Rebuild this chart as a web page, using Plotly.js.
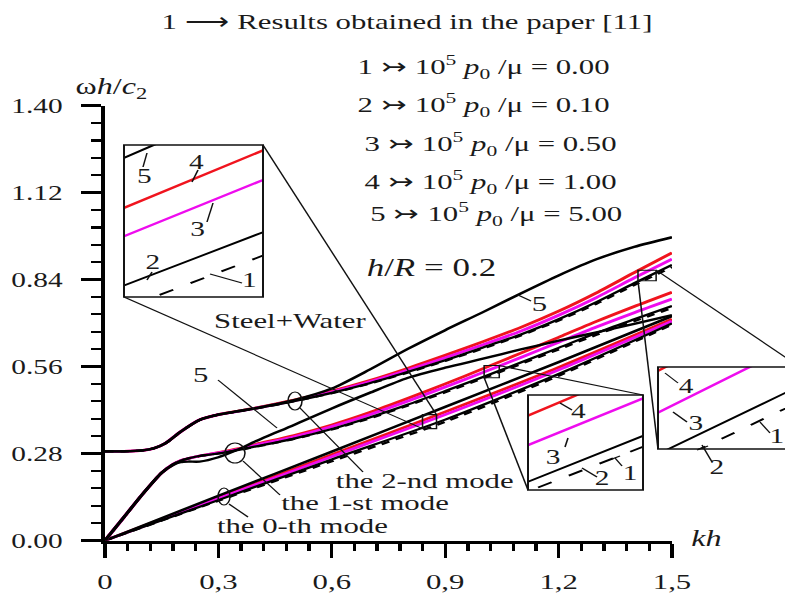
<!DOCTYPE html>
<html><head><meta charset="utf-8">
<script src="https://cdn.plot.ly/plotly-3.0.1.min.js"></script>
<style>
html,body{margin:0;padding:0;background:#fff;overflow:hidden;}
#chart{width:561px;height:597px;transform:scaleX(1.3993);transform-origin:0 0;}
</style></head><body><div id="chart"></div>
<script>
// ================= DATA =================
// x-axis ticks
const xTickVals = [0, 0.3, 0.6, 0.9, 1.2, 1.5];
const xTickText = ["0", "0,3", "0,6", "0,9", "1,2", "1,5"];
// y-axis ticks
const yTickVals = [0, 0.28, 0.56, 0.84, 1.12, 1.40];
const yTickText = ["0.00", "0.28", "0.56", "0.84", "1.12", "1.40"];

// 0-th mode (curves 1..5)
const kh0 = [0, 0.3, 0.6, 0.9, 1.2, 1.5];
const mode0_c1 = [0, 0.128, 0.255, 0.382, 0.530, 0.695];
const mode0_c2 = [0, 0.130, 0.261, 0.389, 0.536, 0.699];
const mode0_c3 = [0, 0.135, 0.270, 0.405, 0.549, 0.706];
const mode0_c4 = [0, 0.138, 0.276, 0.414, 0.557, 0.712];
const mode0_c5 = [0, 0.144, 0.286, 0.430, 0.574, 0.722];

// 1-st mode (curves 1..5)
const kh1 = [0, 0.05, 0.1, 0.15, 0.18, 0.2, 0.22, 0.25, 0.3, 0.35, 0.4, 0.5, 0.6, 0.7, 0.8, 0.9, 1.0, 1.1, 1.2, 1.3, 1.4, 1.5];
const mode1_c1 = [0, 0.075, 0.150, 0.218, 0.245, 0.257, 0.264, 0.272, 0.280, 0.290, 0.302, 0.327, 0.357, 0.393, 0.434, 0.477, 0.522, 0.568, 0.615, 0.662, 0.706, 0.748];
const mode1_c2 = [0, 0.075, 0.150, 0.218, 0.245, 0.257, 0.264, 0.272, 0.280, 0.291, 0.303, 0.328, 0.359, 0.396, 0.437, 0.481, 0.526, 0.573, 0.620, 0.668, 0.712, 0.755];
const mode1_c3 = [0, 0.075, 0.150, 0.218, 0.245, 0.257, 0.264, 0.272, 0.282, 0.293, 0.307, 0.334, 0.367, 0.405, 0.448, 0.494, 0.541, 0.589, 0.638, 0.687, 0.733, 0.777];
const mode1_c4 = [0, 0.075, 0.150, 0.218, 0.245, 0.257, 0.264, 0.272, 0.283, 0.295, 0.310, 0.338, 0.372, 0.412, 0.457, 0.504, 0.553, 0.603, 0.654, 0.705, 0.753, 0.799];
const mode1_c5 = [0, 0.075, 0.150, 0.218, 0.243, 0.252, 0.254, 0.254, 0.268, 0.292, 0.320, 0.372, 0.425, 0.475, 0.523, 0.556, 0.585, 0.615, 0.643, 0.670, 0.697, 0.725];

// 2-nd mode (curves 1..5)
const kh2 = [0, 0.05, 0.1, 0.13, 0.16, 0.2, 0.25, 0.3, 0.35, 0.4, 0.5, 0.6, 0.7, 0.8, 0.9, 1.0, 1.1, 1.2, 1.3, 1.4, 1.5];
const mode2_c1 = [0.287, 0.287, 0.290, 0.297, 0.313, 0.350, 0.388, 0.405, 0.415, 0.425, 0.448, 0.474, 0.505, 0.540, 0.578, 0.618, 0.660, 0.708, 0.762, 0.822, 0.880];
const mode2_c2 = [0.287, 0.287, 0.290, 0.297, 0.313, 0.350, 0.388, 0.405, 0.415, 0.425, 0.448, 0.475, 0.506, 0.542, 0.580, 0.621, 0.663, 0.712, 0.767, 0.828, 0.887];
const mode2_c3 = [0.287, 0.287, 0.290, 0.297, 0.313, 0.350, 0.388, 0.405, 0.415, 0.426, 0.450, 0.478, 0.511, 0.548, 0.588, 0.630, 0.674, 0.725, 0.782, 0.845, 0.906];
const mode2_c4 = [0.287, 0.287, 0.290, 0.297, 0.313, 0.350, 0.388, 0.405, 0.416, 0.427, 0.452, 0.481, 0.515, 0.554, 0.596, 0.640, 0.686, 0.738, 0.797, 0.862, 0.926];
const mode2_c5 = [0.287, 0.287, 0.290, 0.297, 0.313, 0.350, 0.388, 0.405, 0.416, 0.427, 0.452, 0.489, 0.550, 0.616, 0.677, 0.735, 0.795, 0.853, 0.905, 0.945, 0.976];

// zoom windows shown in the three insets (kh range, value range)
const zoomKhA = [0.840, 0.877], zoomValA = [0.360, 0.405];
const zoomKhB = [1.003, 1.043], zoomValB = [0.524, 0.563];
const zoomKhC = [1.410, 1.458], zoomValC = [0.836, 0.870];

// legend values (10^5 p0/mu)
const legendRows = ["0.00", "0.10", "0.50", "1.00", "5.00"];

// ================= LAYOUT HELPERS =================
const W = 785, H = 597;
const SERIF = "Liberation Serif, Times New Roman, serif";
const INK = "#1a1a1a";
const PX = x => x / W;
const PY = y => 1 - y / H;
// main plot area in reference pixels
const MX0 = 105, MX1 = 672, MY0 = 540.5, MY1 = 105.5;
const XR = [0, 1.5], YR = [0, 1.4];
const kPx = k => MX0 + (k - XR[0]) / (XR[1] - XR[0]) * (MX1 - MX0);
const vPx = v => MY0 - (v - YR[0]) / (YR[1] - YR[0]) * (MY0 - MY1);
// inset boxes (reference pixels): [left, top, right, bottom]
const boxA = [124, 145, 263, 297];
const boxB = [528, 395, 643, 490];
const boxC = [658, 367, 800, 449];

const RED = "#f0141e", MAG = "#ee0cee", BLK = "#000000";

function modeTraces(kh, c, xa, ya, inset) {
  const shape = inset ? "linear" : "spline";
  const w = inset ? 2 : 2.4;
  const base = {x: kh, type: "scatter", mode: "lines", xaxis: xa, yaxis: ya,
                hoverinfo: "skip", showlegend: false};
  return [
    Object.assign({}, base, {y: c[3], line: {color: RED, width: w + 0.3, shape: shape, smoothing: 0.7}}),
    Object.assign({}, base, {y: c[2], line: {color: MAG, width: w + 0.3, shape: shape, smoothing: 0.7}}),
    Object.assign({}, base, {y: c[1], line: {color: BLK, width: w - 0.2, shape: shape, smoothing: 0.7}}),
    Object.assign({}, base, {y: c[0], line: {color: BLK, width: w - 0.2, shape: shape, smoothing: 0.7,
                      dash: inset ? "11px,14px" : "6px,5px"}}),
    Object.assign({}, base, {y: c[4], line: {color: BLK, width: w, shape: shape, smoothing: 0.7}})
  ];
}
const m0 = [mode0_c1, mode0_c2, mode0_c3, mode0_c4, mode0_c5];
const m1 = [mode1_c1, mode1_c2, mode1_c3, mode1_c4, mode1_c5];
const m2 = [mode2_c1, mode2_c2, mode2_c3, mode2_c4, mode2_c5];

const traces = [].concat(
  modeTraces(kh0, m0, "x", "y", false),
  modeTraces(kh1, m1, "x", "y", false),
  modeTraces(kh2, m2, "x", "y", false),
  modeTraces(kh0, m0, "x2", "y2", true),
  modeTraces(kh1, m1, "x3", "y3", true),
  modeTraces(kh2, m2, "x4", "y4", true)
);

// ---------- shapes ----------
const shapes = [];
function L(x0, y0, x1, y1, w) {
  shapes.push({type: "line", xref: "paper", yref: "paper", x0: PX(x0), y0: PY(y0), x1: PX(x1), y1: PY(y1),
               line: {color: "#111", width: w || 1.1}});
}
function E(x0, y0, x1, y1) {
  shapes.push({type: "circle", xref: "paper", yref: "paper", x0: PX(x0), y0: PY(y1), x1: PX(x1), y1: PY(y0),
               line: {color: "#111", width: 1.1}});
}
function R(b, w) {
  shapes.push({type: "rect", xref: "paper", yref: "paper", x0: PX(b[0]), y0: PY(b[3]), x1: PX(b[2]), y1: PY(b[1]),
               line: {color: "#111", width: w}});
}
// small squares + inset frames + connectors
[[zoomKhA, zoomValA, boxA], [zoomKhB, zoomValB, boxB], [zoomKhC, zoomValC, boxC]].forEach(([zk, zv, b]) => {
  R([kPx(zk[0]), vPx(zv[1]), kPx(zk[1]), vPx(zv[0])], 1.1);
  R(b, 1.4);
  L(b[2], b[1], kPx(zk[1]), vPx(zv[1]));
  L(b[0], b[3], kPx(zk[0]), vPx(zv[0]));
});
// mode markers and leaders
E(288, 392, 302, 410); L(300, 408, 363, 472);
E(225, 443, 245, 463); L(243, 461, 280, 495);
E(218, 488, 230, 505); L(229, 504, 248, 517);
L(218, 380, 277, 428);  // "5" (1-st mode)
L(518, 295, 531, 301);  // "5" (2-nd mode)
// inset A leaders
L(147, 153, 143, 167); L(198, 170, 192, 182); L(207, 222, 213, 203); L(152, 272, 147, 280); L(242, 283, 210, 274);
// inset B leaders
L(560, 403, 572, 410); L(565, 447, 568, 438); L(582, 468, 597, 477); L(615, 458, 622, 466); L(612, 459, 620, 456);
// inset C leaders
L(665, 373, 678, 383); L(673, 412, 687, 422); L(702, 445, 712, 462); L(697, 450, 708, 446); L(760, 422, 770, 433);

// ---------- annotations ----------
const ann = [];
function T(text, x, y, size, anchor) {
  ann.push({text: text, xref: "paper", yref: "paper", x: PX(x), y: PY(y), xanchor: anchor || "center",
            yanchor: "middle", showarrow: false, font: {family: SERIF, size: size || 22, color: INK}});
}
const rowX = [355, 355, 362, 362, 368], rowY = [67, 105, 144, 181, 213];
legendRows.forEach((v, i) => {
  T((i + 1) + " ↣ 10<sup>5</sup> <i>p</i><sub>0</sub> /μ = " + v, rowX[i], rowY[i], 22, "left");
});
T("<i>h</i>/<i>R</i> = 0.2", 432, 267, 25);
T("ω<i>h</i>/<i>c</i><sub>2</sub>", 111, 88, 23);
T("<i>kh</i>", 707, 538, 23);
T("Steel+Water", 290, 320, 22);
T("5", 201, 374, 22);
T("5", 540, 303, 22);
T("the 2-nd mode", 424, 480, 22);
T("the 1-st mode", 365, 502, 22);
T("the 0-th mode", 302, 525, 22);
// inset A labels
T("5", 145, 176, 21); T("4", 197, 162, 21); T("3", 198, 229, 21); T("2", 153, 262, 21); T("1", 250, 280, 21);
// inset B labels
T("4", 579, 411, 21); T("3", 553, 457, 21); T("2", 603, 478, 21); T("1", 630, 473, 21);
// inset C labels
T("4", 686, 386, 21); T("3", 696, 423, 21); T("2", 717, 467, 21); T("1", 777, 436, 21);

// ---------- axes ----------
const insetAxis = (dom, rng, anchor) => ({domain: dom, range: rng, anchor: anchor, visible: false,
  showgrid: false, zeroline: false, fixedrange: true});
const visEnd = zoomKhC[0] + (zoomKhC[1] - zoomKhC[0]) * (W - boxC[0]) / (boxC[2] - boxC[0]);

const layout = {
  width: 561, height: H,
  margin: {l: 0, r: 0, t: 0, b: 0},
  paper_bgcolor: "#fff", plot_bgcolor: "rgba(0,0,0,0)",
  showlegend: false,
  title: {text: "1 ⟶ Results obtained in the paper [11]", xref: "container", yref: "container",
          x: 407 / W, y: PY(21), xanchor: "center", yanchor: "middle",
          font: {family: SERIF, size: 22, color: INK}},
  xaxis: {domain: [PX(MX0), PX(MX1)], range: XR, anchor: "y",
    tickmode: "array", tickvals: xTickVals, ticktext: xTickText,
    ticks: "outside", ticklen: 14, tickwidth: 2.4, tickcolor: "#000",
    showline: true, linewidth: 3, linecolor: "#000", showgrid: false, zeroline: false,
    tickfont: {family: SERIF, size: 22, color: INK}, ticklabelstandoff: 5,
    minor: {tickmode: "linear", tick0: 0, dtick: 0.06, ticks: "outside", ticklen: 7, tickwidth: 2.4, tickcolor: "#000", showgrid: false},
    fixedrange: true},
  yaxis: {domain: [PY(MY0), PY(MY1)], range: YR, anchor: "x",
    tickmode: "array", tickvals: yTickVals, ticktext: yTickText,
    ticks: "outside", ticklen: 14, tickwidth: 2.4, tickcolor: "#000",
    showline: true, linewidth: 3, linecolor: "#000", showgrid: false, zeroline: false,
    tickfont: {family: SERIF, size: 21, color: INK}, ticklabelstandoff: 9,
    minor: {tickmode: "linear", tick0: 0, dtick: 0.056, ticks: "outside", ticklen: 7, tickwidth: 2.4, tickcolor: "#000", showgrid: false},
    fixedrange: true},
  xaxis2: insetAxis([PX(boxA[0]), PX(boxA[2])], zoomKhA, "y2"),
  yaxis2: insetAxis([PY(boxA[3]), PY(boxA[1])], zoomValA, "x2"),
  xaxis3: insetAxis([PX(boxB[0]), PX(boxB[2])], zoomKhB, "y3"),
  yaxis3: insetAxis([PY(boxB[3]), PY(boxB[1])], zoomValB, "x3"),
  xaxis4: insetAxis([PX(boxC[0]), 1], [zoomKhC[0], visEnd], "y4"),
  yaxis4: insetAxis([PY(boxC[3]), PY(boxC[1])], zoomValC, "x4"),
  shapes: shapes,
  annotations: ann
};

Plotly.newPlot("chart", traces, layout, {staticPlot: true, displayModeBar: false});
</script>
</body></html>
